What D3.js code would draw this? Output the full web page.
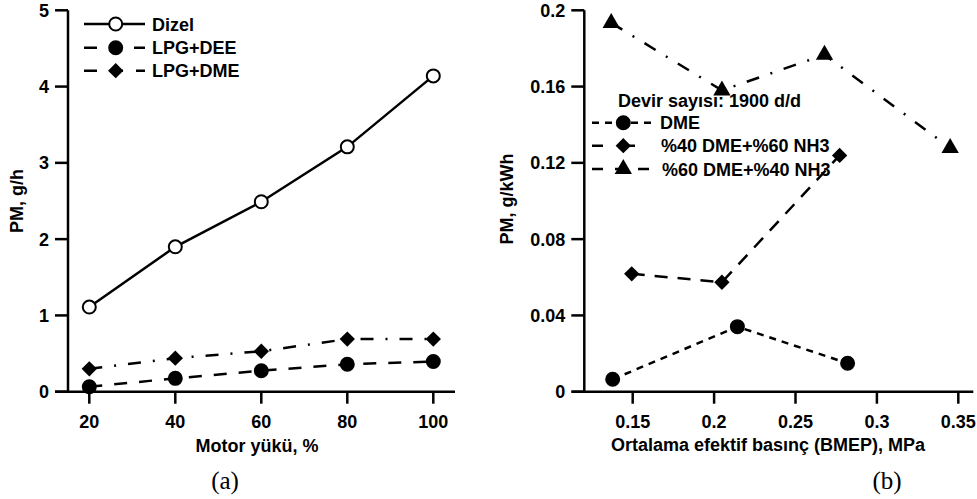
<!DOCTYPE html>
<html>
<head>
<meta charset="utf-8">
<script src="https://cdn.jsdelivr.net/npm/d3@7"></script>
<style>
  body { margin: 0; background: #fff; }
  text { font-family: Arial, "Liberation Sans", sans-serif; font-weight: bold; fill: #000; }
</style>
</head>
<body>
<script>
// ---- data: panel (a)
var loads = [20, 40, 60, 80, 100];
var dizel = [1.11, 1.9, 2.49, 3.21, 4.14];
var lpgDee = [0.065, 0.175, 0.275, 0.36, 0.395];
var lpgDme = [0.3, 0.44, 0.53, 0.69, 0.69];
var yTicksA = [0, 1, 2, 3, 4, 5];
var xTicksA = [20, 40, 60, 80, 100];

// ---- data: panel (b)
var dmeX = [0.1377, 0.2143, 0.282];
var dmeY = [0.0065, 0.0341, 0.0149];
var mix4060X = [0.1494, 0.2048, 0.2771];
var mix4060Y = [0.0618, 0.0574, 0.1239];
var mix6040X = [0.1368, 0.2048, 0.2678, 0.345];
var mix6040Y = [0.1934, 0.158, 0.1767, 0.1278];
var yTicksB = [0, 0.04, 0.08, 0.12, 0.16, 0.2];
var xTicksB = [0.15, 0.2, 0.25, 0.3, 0.35];

var w = 977, h = 499;
var svg = d3.select('body').append('svg').attr('width', w).attr('height', h);

var yTop = 10.3, yBot = 391.7;
var fs = 18;

function axes(x, y, xTicks, yTicks, xFmt, yFmt, x0, x1, yAxisX) {
    svg.append('line').attr('x1', x0).attr('x2', x1).attr('y1', yBot).attr('y2', yBot)
        .attr('stroke', '#000').attr('stroke-width', 2.5);
    svg.append('line').attr('x1', yAxisX).attr('x2', yAxisX).attr('y1', yTop).attr('y2', yBot)
        .attr('stroke', '#000').attr('stroke-width', 2.5);
    xTicks.forEach(function(t) {
        svg.append('line').attr('x1', x(t)).attr('x2', x(t)).attr('y1', yBot).attr('y2', yBot + 12)
            .attr('stroke', '#000').attr('stroke-width', 2.5);
        svg.append('text').attr('x', x(t)).attr('y', yBot + 36).attr('text-anchor', 'middle')
            .style('font-size', fs + 'px').text(xFmt(t));
    });
    yTicks.forEach(function(t) {
        svg.append('line').attr('x1', yAxisX - 13).attr('x2', yAxisX).attr('y1', y(t)).attr('y2', y(t))
            .attr('stroke', '#000').attr('stroke-width', 2.5);
        svg.append('text').attr('x', yAxisX - 19).attr('y', y(t) + 6.5).attr('text-anchor', 'end')
            .style('font-size', fs + 'px').text(yFmt(t));
    });
}

function series(x, y, xs, ys, dash, marker, fill) {
    var pts = xs.map(function(v, i) { return [x(v), y(ys[i])]; });
    svg.append('path').attr('d', d3.line()(pts)).attr('fill', 'none')
        .attr('stroke', '#000').attr('stroke-width', 2.5).attr('stroke-dasharray', dash);
    pts.forEach(function(p) { drawMarker(p[0], p[1], marker, fill); });
}

function drawMarker(cx, cy, marker, fill) {
    if (marker === 'circle') {
        svg.append('circle').attr('cx', cx).attr('cy', cy).attr('r', 6.5)
            .attr('fill', fill).attr('stroke', '#000').attr('stroke-width', 2);
    } else if (marker === 'diamond') {
        svg.append('path').attr('d', d3.symbol().type(d3.symbolDiamond2).size(150)())
            .attr('transform', 'translate(' + cx + ',' + cy + ')').attr('fill', '#000');
    } else {
        svg.append('path').attr('d', d3.symbol().type(d3.symbolTriangle).size(130)())
            .attr('transform', 'translate(' + cx + ',' + cy + ')').attr('fill', '#000');
    }
}

function legendRow(x0, x1, mx, y, dash, marker, fill, tx, label) {
    svg.append('line').attr('x1', x0).attr('x2', x1).attr('y1', y).attr('y2', y)
        .attr('stroke', '#000').attr('stroke-width', 2.5).attr('stroke-dasharray', dash);
    drawMarker(mx, y, marker, fill);
    svg.append('text').attr('x', tx).attr('y', y + 6.5).style('font-size', fs + 'px').text(label);
}

// ---------- panel (a)
var xA = d3.scaleLinear().domain([20, 100]).range([89.3, 433.3]);
var yA = d3.scaleLinear().domain([0, 5]).range([yBot, yTop]);
axes(xA, yA, xTicksA, yTicksA, d3.format('d'), d3.format('d'), 55, 455, 68);

series(xA, yA, loads, dizel, null, 'circle', '#fff');
series(xA, yA, loads, lpgDee, '13,12', 'circle', '#000');
series(xA, yA, loads, lpgDme, '13,12,2,12', 'diamond', '#000');

legendRow(84, 145, 115.7, 24, null, 'circle', '#fff', 152, 'Dizel');
legendRow(84, 145, 115.7, 47.7, '13,37', 'circle', '#000', 152, 'LPG+DEE');
legendRow(84, 145, 115.7, 70.7, '13,13', 'diamond', '#000', 152, 'LPG+DME');

svg.append('text').attr('x', 257).attr('y', 452).attr('text-anchor', 'middle')
    .style('font-size', fs + 'px').text('Motor yükü, %');
svg.append('text').attr('transform', 'translate(23,201) rotate(-90)').attr('text-anchor', 'middle')
    .style('font-size', fs + 'px').text('PM, g/h');
svg.append('text').attr('x', 225).attr('y', 489).attr('text-anchor', 'middle')
    .style('font-family', '"Times New Roman", "Liberation Serif", serif').style('font-weight', 'normal')
    .style('font-size', '25px').text('(a)');

// ---------- panel (b)
var xB = d3.scaleLinear().domain([0.15, 0.35]).range([632.7, 958.3]);
var yB = d3.scaleLinear().domain([0, 0.2]).range([yBot, yTop]);
axes(xB, yB, xTicksB, yTicksB, function(t) { return String(+t.toFixed(2)); },
    function(t) { return String(+t.toFixed(2)); }, 571.7, 973.3, 584.3);

series(xB, yB, dmeX, dmeY, '7,6', 'circle', '#000');
series(xB, yB, mix4060X, mix4060Y, '13,10', 'diamond', '#000');
series(xB, yB, mix6040X, mix6040Y, '13,12,2,12', 'triangle', '#000');

svg.append('text').attr('x', 618).attr('y', 107).style('font-size', fs + 'px').text('Devir sayısı: 1900 d/d');
legendRow(592, 653, 623.3, 122.7, '7,6', 'circle', '#000', 660, 'DME');
legendRow(592, 653, 623.3, 145.7, '11,21', 'diamond', '#000', 661, '%40 DME+%60 NH3');
legendRow(592, 653, 623.3, 169, '11,12', 'triangle', '#000', 662, '%60 DME+%40 NH3');

svg.append('text').attr('x', 768).attr('y', 451).attr('text-anchor', 'middle')
    .style('font-size', fs + 'px').text('Ortalama efektif basınç (BMEP), MPa');
svg.append('text').attr('transform', 'translate(513,199) rotate(-90)').attr('text-anchor', 'middle')
    .style('font-size', fs + 'px').text('PM, g/kWh');
svg.append('text').attr('x', 887).attr('y', 489).attr('text-anchor', 'middle')
    .style('font-family', '"Times New Roman", "Liberation Serif", serif').style('font-weight', 'normal')
    .style('font-size', '25px').text('(b)');
</script>
</body>
</html>
